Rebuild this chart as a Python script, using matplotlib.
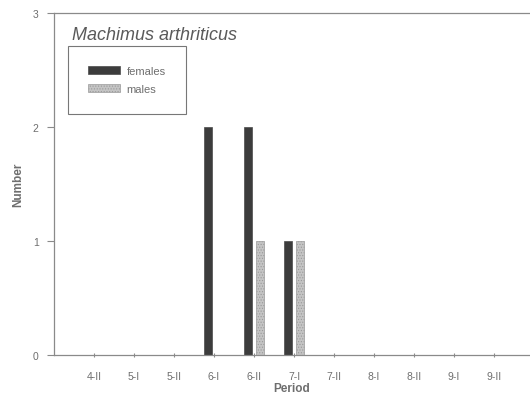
import matplotlib
matplotlib.use("Agg")
import matplotlib.pyplot as plt
import numpy as np

periods = ["4-II", "5-I", "5-II", "6-I", "6-II", "7-I", "7-II", "8-I", "8-II", "9-I", "9-II"]
females = [0, 0, 0, 2, 2, 1, 0, 0, 0, 0, 0]
males = [0, 0, 0, 0, 1, 1, 0, 0, 0, 0, 0]

text_grey = "#6e6e6e"
line_grey = "#8a8a8a"

plt.rcParams["font.family"] = ["Liberation Sans", "DejaVu Sans"]
plt.rcParams["hatch.color"] = "#8c8c8c"
plt.rcParams["hatch.linewidth"] = 0.5

fig = plt.figure(figsize=(5.30, 4.10), dpi=100)
ax = fig.add_axes([0.102, 0.132, 0.898, 0.834])

x = np.arange(1, len(periods) + 1)
w = 0.2
ax.bar(x - 0.15, females, width=w, color="#3c3c3c", edgecolor="#4a4a4a",
       linewidth=0.5, label="females")
ax.bar(x + 0.15, males, width=w, color="#c4c4c4", edgecolor="#9a9a9a",
       linewidth=0.5, hatch="......", label="males")

ax.set_xlim(0, 11.9)
ax.set_ylim(0, 3)
ax.set_xticks(x)
ax.set_xticklabels(periods)
ax.set_yticks([0, 1, 2, 3])

for side in ["left", "top", "bottom"]:
    ax.spines[side].set_color(line_grey)
    ax.spines[side].set_linewidth(0.9)
ax.spines["right"].set_visible(False)

ax.tick_params(axis="x", colors=line_grey, labelcolor=text_grey, labelsize=7.5,
               length=3, direction="inout", pad=10)
ax.tick_params(axis="y", colors=line_grey, labelcolor=text_grey, labelsize=7.5,
               length=5, direction="out", pad=6)

ax.set_xlabel("Period", fontsize=8.5, fontweight="bold", color=text_grey, labelpad=1)
ax.set_ylabel("Number", fontsize=8.5, fontweight="bold", color=text_grey, labelpad=6)

ax.text(0.037, 0.962, "Machimus arthriticus", transform=ax.transAxes,
        fontsize=13, style="italic", color="#5a5a5a", va="top", ha="left")

leg = ax.legend(loc="upper left", bbox_to_anchor=(0.029, 0.9035), fontsize=8,
                frameon=True, fancybox=False, handlelength=2.9, handleheight=0.7,
                borderpad=1.8, labelspacing=0.7, handletextpad=0.6,
                borderaxespad=0)
leg.get_frame().set_edgecolor("#555555")
leg.get_frame().set_linewidth(0.8)
for t in leg.get_texts():
    t.set_color(text_grey)

fig.savefig("out.png", dpi=100)
